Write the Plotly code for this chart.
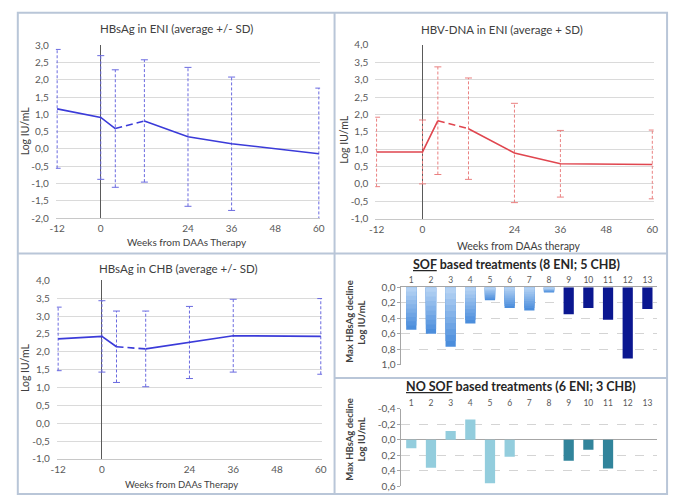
import plotly.graph_objects as go

W, H = 676, 497


def px(x):
    return x / W


def py(y):
    return 1 - y / H


# ---------------- data ----------------
WEEKS = [-12, 0, 4, 12, 24, 36, 60]
X_TICKS = [-12, 0, 24, 36, 48, 60]

ENI_HBSAG_MEAN = [1.16, 0.91, 0.59, 0.81, 0.35, 0.15, -0.14]
ENI_HBSAG_SD = [1.72, 1.79, 1.70, 1.77, 2.01, 1.93, 1.90]

ENI_DNA_MEAN = [0.92, 0.92, 1.82, 1.59, 0.89, 0.58, 0.56]
ENI_DNA_SD = [1.00, 0.92, 1.55, 1.46, 1.43, 0.96, 0.99]

CHB_HBSAG_MEAN = [2.36, 2.43, 2.14, 2.08, 2.26, 2.45, 2.43]
CHB_HBSAG_SD = [0.89, 1.00, 1.00, 1.06, 1.01, 1.02, 1.06]

Y_TICKS_ENI_HBSAG = [-2.0, -1.5, -1.0, -0.5, 0.0, 0.5, 1.0, 1.5, 2.0, 2.5, 3.0]
Y_TICKS_DNA = [-1.0, -0.5, 0.0, 0.5, 1.0, 1.5, 2.0, 2.5, 3.0, 3.5, 4.0]
Y_TICKS_CHB = [-1.0, -0.5, 0.0, 0.5, 1.0, 1.5, 2.0, 2.5, 3.0, 3.5, 4.0]

PATIENTS = list(range(1, 14))
SOF_DECLINE = [0.55, 0.60, 0.77, 0.47, 0.17, 0.27, 0.30, 0.07, 0.35, 0.27, 0.42, 0.92, 0.28]
NOSOF_DECLINE = [0.11, 0.36, -0.11, -0.26, 0.56, 0.22, None, None, 0.27, 0.13, 0.37, None, None]
GROUP = ["ENI"] * 8 + ["CHB"] * 5
Y_TICKS_SOF = [0.0, 0.2, 0.4, 0.6, 0.8, 1.0]
Y_TICKS_NOSOF = [-0.4, -0.2, 0.0, 0.2, 0.4, 0.6]


def fmt(v):
    return f"{v:.1f}".replace(".", ",")


FONT = "Lato, 'Open Sans', sans-serif"
TICK_FONT = dict(family=FONT, size=10, color="#595959")
TITLE_COLOR = "#404040"

fig = go.Figure()


def add_line_panel(n, mean, sd, line_color, err_color):
    xa, ya = ("x" if n == 1 else f"x{n}"), ("y" if n == 1 else f"y{n}")
    ex, ey = [], []
    for w, m, s in zip(WEEKS, mean, sd):
        ex += [w, w, None]
        ey += [m - s, m + s, None]
    fig.add_trace(go.Scatter(
        x=ex, y=ey, mode="lines+markers", xaxis=xa, yaxis=ya,
        line=dict(color=err_color, width=1, dash="3px,2px"),
        marker=dict(symbol="line-ew", size=5, line=dict(color=err_color, width=1)),
        hoverinfo="skip", showlegend=False))
    fig.add_trace(go.Scatter(x=WEEKS[:3], y=mean[:3], mode="lines", xaxis=xa, yaxis=ya,
                             line=dict(color=line_color, width=1.6), showlegend=False))
    fig.add_trace(go.Scatter(x=WEEKS[2:4], y=mean[2:4], mode="lines", xaxis=xa, yaxis=ya,
                             line=dict(color=line_color, width=1.6, dash="7px,4px"), showlegend=False))
    fig.add_trace(go.Scatter(x=WEEKS[3:], y=mean[3:], mode="lines", xaxis=xa, yaxis=ya,
                             line=dict(color=line_color, width=1.6), showlegend=False))


add_line_panel(1, ENI_HBSAG_MEAN, ENI_HBSAG_SD, "#3B3BD9", "#6A6AE0")
add_line_panel(2, ENI_DNA_MEAN, ENI_DNA_SD, "#E0464F", "#EA8080")
add_line_panel(3, CHB_HBSAG_MEAN, CHB_HBSAG_SD, "#3B3BD9", "#6A6AE0")


def mix(c1, c2, t):
    a = [int(c1[i:i + 2], 16) for i in (1, 3, 5)]
    b = [int(c2[i:i + 2], 16) for i in (1, 3, 5)]
    return "#" + "".join(f"{round(a[k] + (b[k] - a[k]) * t):02x}" for k in range(3))


def gradient_bars(xs, vals, xa, ya, c_far, c_near, steps=10):
    # overlaid bars: full bar (darkest) first, then progressively shorter, lighter bars on top
    for k in range(steps):
        f = 1 - k / steps
        ys = [None if v is None else v * f for v in vals]
        fig.add_trace(go.Bar(x=xs, y=ys, xaxis=xa, yaxis=ya, width=0.52,
                             marker=dict(color=mix(c_far, c_near, k / (steps - 1)), line=dict(width=0)),
                             showlegend=False, hoverinfo="skip" if k else None))


gradient_bars(PATIENTS[:8], SOF_DECLINE[:8], "x4", "y4", "#4C8EDC", "#B3D1F3")
fig.add_trace(go.Bar(x=PATIENTS[8:], y=SOF_DECLINE[8:], xaxis="x4", yaxis="y4", width=0.52,
                     marker=dict(color="#0B1790", line=dict(width=0)), showlegend=False))
fig.add_trace(go.Bar(x=PATIENTS[:8], y=NOSOF_DECLINE[:8], xaxis="x5", yaxis="y5", width=0.52,
                     marker=dict(color="#93CDDD", line=dict(width=0)), showlegend=False))
fig.add_trace(go.Bar(x=PATIENTS[8:], y=NOSOF_DECLINE[8:], xaxis="x5", yaxis="y5", width=0.52,
                     marker=dict(color="#31849B", line=dict(width=0)), showlegend=False))

PAD = 0.35  # weeks of padding so edge error bars are not clipped


def line_axes(n, x0, x1, ytop, ybot, yticks):
    xk = "xaxis" if n == 1 else f"xaxis{n}"
    yk = "yaxis" if n == 1 else f"yaxis{n}"
    ppw = (x1 - x0) / 72.0
    fig.update_layout(**{
        xk: dict(domain=[px(x0 - PAD * ppw), px(x1 + PAD * ppw)], range=[-12 - PAD, 60 + PAD],
                 anchor="y" if n == 1 else f"y{n}",
                 tickvals=X_TICKS, ticktext=[str(v) for v in X_TICKS], tickfont=TICK_FONT,
                 showgrid=False, zeroline=True, zerolinecolor="#5A5A5A", zerolinewidth=1,
                 showline=True, linecolor="#C8C8C8", linewidth=1, ticks="", ticklabelstandoff=1),
        yk: dict(domain=[py(ybot), py(ytop)], range=[yticks[0], yticks[-1]],
                 anchor="x" if n == 1 else f"x{n}",
                 tickvals=yticks, ticktext=[fmt(v) for v in yticks], tickfont=TICK_FONT,
                 showgrid=True, gridcolor="#DADADA", gridwidth=1, zeroline=False,
                 showline=False, ticks="", ticklabelstandoff=6),
    })


line_axes(1, 52, 318, 39.3, 216.7, Y_TICKS_ENI_HBSAG)
line_axes(2, 376.7, 657, 39, 217.3, Y_TICKS_DNA)
line_axes(3, 53, 320, 280.7, 464, Y_TICKS_CHB)

fig.update_layout(
    xaxis4=dict(domain=[px(402), px(662)], range=[0.5, 13.5], anchor="y4", side="top",
                tickvals=PATIENTS, ticktext=[str(p) for p in PATIENTS],
                tickfont=dict(family=FONT, size=8.5, color="#595959"),
                showgrid=False, zeroline=False, showline=True, linecolor="#A6A6A6", ticks=""),
    yaxis4=dict(domain=[py(367.3), py(287.7)], range=[1.0, 0.0], anchor="x4",
                tickvals=Y_TICKS_SOF, ticktext=[fmt(v) for v in Y_TICKS_SOF],
                tickfont=dict(family=FONT, size=10, color="#595959"),
                showgrid=True, gridcolor="#D4D4D4", griddash="dash", zeroline=False,
                showline=True, linecolor="#A6A6A6", ticks="outside", ticklen=3, tickcolor="#A6A6A6"),
    xaxis5=dict(domain=[px(402), px(662)], range=[0.5, 13.5], anchor="y5", side="top",
                tickvals=PATIENTS, ticktext=[str(p) for p in PATIENTS],
                tickfont=dict(family=FONT, size=8.5, color="#595959"),
                showgrid=False, zeroline=False, showline=False, ticks=""),
    yaxis5=dict(domain=[py(492.3), py(412.3)], range=[0.6, -0.4], anchor="x5",
                tickvals=Y_TICKS_NOSOF, ticktext=[fmt(v) for v in Y_TICKS_NOSOF],
                tickfont=dict(family=FONT, size=10, color="#595959"),
                showgrid=True, gridcolor="#D4D4D4", griddash="dash",
                zeroline=True, zerolinecolor="#A6A6A6", zerolinewidth=1,
                showline=True, linecolor="#A6A6A6", ticks="outside", ticklen=3, tickcolor="#A6A6A6"),
)

ann = []


def text(x, y, s, size=10, angle=0, bold=False, color=TITLE_COLOR):
    ann.append(dict(x=px(x), y=py(y), xref="paper", yref="paper", text=f"<b>{s}</b>" if bold else s,
                    showarrow=False, textangle=angle, xanchor="center", yanchor="middle",
                    font=dict(family=FONT, size=size, color=color)))


text(173, 22, "HBsAg in ENI (average +/- SD)", 11.5)
text(184, 241, "Weeks from DAAs Therapy", 10)
text(19, 127, "Log IU/mL", 10.5, -90)
text(504, 23, "HBV-DNA in ENI (average + SD)", 11.5)
text(521, 245, "Weeks from DAAs therapy", 10.5)
text(344, 136, "Log IU/mL", 10.5, -90)
text(175, 269, "HBsAg in CHB (average +/- SD)", 11.5)
text(178, 490, "Weeks from DAAs Therapy", 9.5)
text(20, 370, "Log IU/mL", 10.5, -90)
text(519, 264, "<u>SOF</u> based treatments (8 ENI; 5 CHB)", 12.5, bold=True, color="#262626")
text(349, 323, "Max HBsAg decline", 9.5, -90, bold=True, color="#404040")
text(361, 324, "Log IU/mL", 9.5, -90, bold=True, color="#404040")
text(524, 390, "<u>NO SOF</u> based treatments (6 ENI; 3 CHB)", 12.5, bold=True, color="#262626")
text(349, 444, "Max HBsAg decline", 9.5, -90, bold=True, color="#404040")
text(361, 444, "Log IU/mL", 9.5, -90, bold=True, color="#404040")

BORDER = "#B9C6D8"
shapes = [
    dict(type="rect", xref="paper", yref="paper", x0=px(12), x1=px(672), y0=py(500), y1=py(6),
         line=dict(color=BORDER, width=2)),
    dict(type="line", xref="paper", yref="paper", x0=px(334), x1=px(334), y0=py(500), y1=py(6),
         line=dict(color=BORDER, width=2)),
    dict(type="line", xref="paper", yref="paper", x0=px(12), x1=px(672), y0=py(253), y1=py(253),
         line=dict(color=BORDER, width=2)),
    dict(type="line", xref="paper", yref="paper", x0=px(334), x1=px(672), y0=py(381), y1=py(381),
         line=dict(color=BORDER, width=2)),
]

fig.update_layout(
    width=W, height=H, margin=dict(l=0, r=0, t=0, b=0),
    paper_bgcolor="white", plot_bgcolor="white",
    annotations=ann, shapes=shapes, barmode="overlay", showlegend=False,
    font=dict(family=FONT),
)

fig.write_html(
    "out.html",
    config={"displayModeBar": False},
    post_script="document.body.style.margin='0';document.body.style.overflow='hidden';",
)
